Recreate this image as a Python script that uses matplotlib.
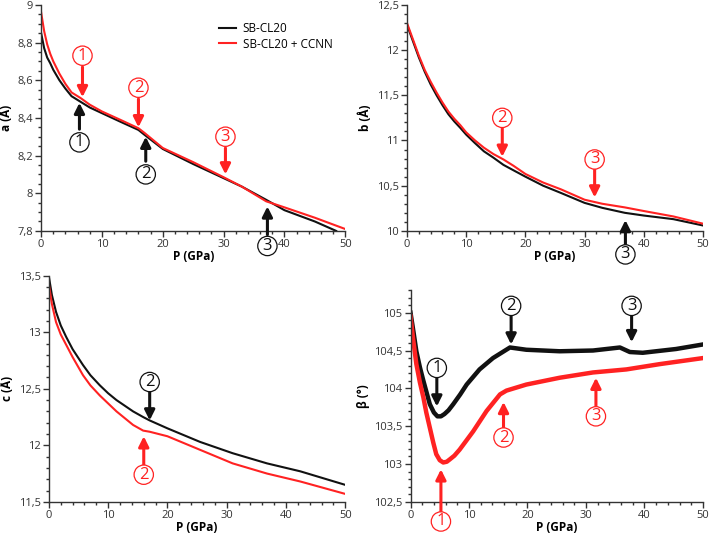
import matplotlib
matplotlib.use("Agg")
import matplotlib.pyplot as plt
from matplotlib.ticker import AutoMinorLocator, FuncFormatter, MultipleLocator

plt.rcParams['font.family'] = ['Open Sans', 'DejaVu Sans']

BLACK = '#111111'
RED = '#ff2222'

# a (Angstrom) vs P
p_a_blk = [0, 0.5, 1, 1.5, 2, 3, 4, 5, 6.5, 8, 10, 13, 16, 17, 20, 25, 30, 33, 37, 40, 45, 48.5]
a_blk = [8.85, 8.77, 8.72, 8.69, 8.655, 8.60, 8.555, 8.515, 8.485, 8.455, 8.425, 8.38, 8.336, 8.31,
         8.235, 8.155, 8.08, 8.035, 7.965, 7.91, 7.85, 7.80]
p_a_red = [0, 0.5, 1, 1.5, 2, 3, 4, 5, 6.5, 8, 10, 13, 16, 17, 20, 25, 30, 33, 37, 40, 45, 50]
a_red = [8.96, 8.86, 8.79, 8.74, 8.70, 8.635, 8.58, 8.535, 8.505, 8.47, 8.434, 8.39, 8.345, 8.32,
         8.24, 8.165, 8.085, 8.035, 7.957, 7.925, 7.87, 7.81]

# b (Angstrom) vs P
p_b = [0, 0.5, 1, 2, 3, 4, 5, 6, 7, 8, 9, 10, 11.5, 13, 14.6, 16.3, 18, 20, 23, 26, 30, 33,
       36.8, 40, 45, 50]
b_blk = [12.28, 12.19, 12.10, 11.92, 11.76, 11.62, 11.50, 11.39, 11.29, 11.21, 11.14, 11.065,
         10.97, 10.88, 10.81, 10.73, 10.67, 10.60, 10.50, 10.42, 10.31, 10.255, 10.20, 10.17,
         10.13, 10.06]
b_red = [12.30, 12.21, 12.12, 11.94, 11.78, 11.65, 11.53, 11.42, 11.32, 11.24, 11.17, 11.09,
         11.00, 10.92, 10.85, 10.79, 10.72, 10.63, 10.535, 10.46, 10.345, 10.30, 10.26, 10.22,
         10.16, 10.08]

# c (Angstrom) vs P
p_c = [0, 0.5, 1.2, 2, 2.9, 4, 5.75, 7, 8.6, 10, 11.4, 14.2, 15.9, 17, 20, 25.5, 31, 36.8, 42.4, 50]
c_blk = [13.49, 13.33, 13.18, 13.06, 12.96, 12.85, 12.71, 12.62, 12.53, 12.46, 12.40, 12.30,
         12.25, 12.22, 12.15, 12.03, 11.93, 11.84, 11.77, 11.65]
c_red = [13.42, 13.25, 13.09, 12.98, 12.89, 12.78, 12.62, 12.53, 12.44, 12.37, 12.30, 12.18,
         12.13, 12.12, 12.08, 11.96, 11.84, 11.75, 11.68, 11.57]

# beta (deg) vs P
p_beta = [0, 0.5, 1, 1.6, 2.2, 3.3, 4.0, 4.6, 5.2, 5.8, 6.5, 7.3, 8.5, 9.6, 11.8, 14.1, 17, 19.8,
          25.5, 31.2, 35.8, 37.5, 39.7, 45.4, 50]
beta_blk = [105.0, 104.75, 104.49, 104.28, 104.10, 103.79, 103.68, 103.63, 103.63, 103.66,
            103.71, 103.79, 103.92, 104.05, 104.25, 104.40, 104.54, 104.51, 104.49, 104.50,
            104.54, 104.48, 104.47, 104.52, 104.58]
p_beta_red = [0, 0.5, 1, 1.6, 2.2, 2.7, 3.3, 3.9, 4.4, 5.0, 5.6, 6.2, 6.7, 7.5, 8.4, 10.7, 13,
              15.3, 16.4, 19.8, 25.5, 31.2, 36.9, 42.6, 50]
beta_red = [104.95, 104.62, 104.32, 104.08, 103.88, 103.68, 103.48, 103.28, 103.13, 103.05,
            103.02, 103.03, 103.06, 103.11, 103.19, 103.43, 103.70, 103.92, 103.97, 104.05,
            104.14, 104.21, 104.25, 104.32, 104.40]

# markers: (label, colour, circle P, circle y, arrow base y, arrow tip y)
marks_a = [('1', RED, 6.8, 8.73, 8.67, 8.51), ('1', BLACK, 6.3, 8.27, 8.34, 8.48),
           ('2', RED, 16.0, 8.56, 8.50, 8.35), ('2', BLACK, 17.2, 8.10, 8.17, 8.30),
           ('3', RED, 30.3, 8.30, 8.24, 8.10), ('3', BLACK, 37.2, 7.72, 7.78, 7.93)]
marks_b = [('2', RED, 16.1, 11.25, 11.14, 10.82), ('3', RED, 31.7, 10.79, 10.68, 10.37),
           ('3', BLACK, 36.9, 9.74, 9.84, 10.12)]
marks_c = [('2', BLACK, 17.0, 12.56, 12.48, 12.22), ('2', RED, 16.0, 11.74, 11.82, 12.08)]
marks_beta = [('1', BLACK, 4.5, 104.27, 104.15, 103.76), ('2', BLACK, 17.2, 105.09, 104.98, 104.58),
              ('3', BLACK, 37.8, 105.09, 104.98, 104.61), ('1', RED, 5.2, 102.24, 102.35, 102.93),
              ('2', RED, 15.9, 103.35, 103.46, 103.82), ('3', RED, 31.7, 103.63, 103.74, 104.14)]


def comma(v, pos):
    s = ('%.2f' % v).rstrip('0').rstrip('.')
    return s.replace('.', ',')


def style(ax, ylim, major, ylabel):
    ax.set_xlim(0, 50)
    ax.set_ylim(*ylim)
    for s in ('top', 'right'):
        ax.spines[s].set_visible(False)
    for s in ('left', 'bottom'):
        ax.spines[s].set_color('#333333')
        ax.spines[s].set_linewidth(1.0)
    ax.xaxis.set_major_locator(MultipleLocator(10))
    ax.xaxis.set_minor_locator(AutoMinorLocator(5))
    ax.yaxis.set_major_locator(MultipleLocator(major))
    ax.yaxis.set_minor_locator(AutoMinorLocator())
    ax.yaxis.set_major_formatter(FuncFormatter(comma))
    ax.tick_params(which='major', direction='out', length=4, width=1, color='#333333',
                   labelsize=8, labelcolor='#333333', pad=2)
    ax.tick_params(which='minor', direction='out', length=2.5, width=1, color='#333333')
    ax.set_xlabel('P (GPa)', fontsize=8.5, fontweight='bold', labelpad=0)
    ax.set_ylabel(ylabel, fontsize=8.5, fontweight='bold', labelpad=3)


def add_marks(ax, marks):
    for lab, col, px, cy, y0, y1 in marks:
        ax.annotate('', xy=(px, y1), xytext=(px, y0), annotation_clip=False,
                    arrowprops=dict(arrowstyle='-|>,head_length=0.6,head_width=0.3',
                                    color=col, lw=2.2, shrinkA=0, shrinkB=0))
        ax.text(px, cy, lab, color=col, fontsize=12, ha='center', va='center',
                clip_on=False, zorder=5,
                bbox=dict(boxstyle='circle,pad=0.1', fc='white', ec=col, lw=0.9))


fig = plt.figure(figsize=(7.09, 5.37), dpi=100)
ax_a = fig.add_axes([0.058, 0.570, 0.429, 0.421])
ax_b = fig.add_axes([0.574, 0.570, 0.4175, 0.421])
ax_c = fig.add_axes([0.069, 0.0655, 0.418, 0.421])
ax_be = fig.add_axes([0.579, 0.0655, 0.4125, 0.3945])

ax_a.plot(p_a_blk, a_blk, color=BLACK, lw=1.5, label='SB-CL20')
ax_a.plot(p_a_red, a_red, color=RED, lw=1.5, label='SB-CL20 + CCNN')
style(ax_a, (7.8, 9.0), 0.2, 'a (Å)')
add_marks(ax_a, marks_a)
leg = ax_a.legend(loc='upper left', bbox_to_anchor=(0.55, 0.97), frameon=False, fontsize=8.5,
                  handlelength=1.4, handletextpad=0.6, labelspacing=0.2)
for h in leg.legend_handles:
    h.set_linewidth(1.5)

ax_b.plot(p_b, b_blk, color=BLACK, lw=1.5)
ax_b.plot(p_b, b_red, color=RED, lw=1.5)
style(ax_b, (10.0, 12.5), 0.5, 'b (Å)')
add_marks(ax_b, marks_b)

ax_c.plot(p_c, c_blk, color=BLACK, lw=1.5)
ax_c.plot(p_c, c_red, color=RED, lw=1.5)
style(ax_c, (11.5, 13.5), 0.5, 'c (Å)')
add_marks(ax_c, marks_c)

ax_be.plot(p_beta, beta_blk, color=BLACK, lw=3.2)
ax_be.plot(p_beta_red, beta_red, color=RED, lw=3.2)
style(ax_be, (102.5, 105.3), 0.5, 'β (°)')
add_marks(ax_be, marks_beta)

fig.savefig('out.png', dpi=100)
